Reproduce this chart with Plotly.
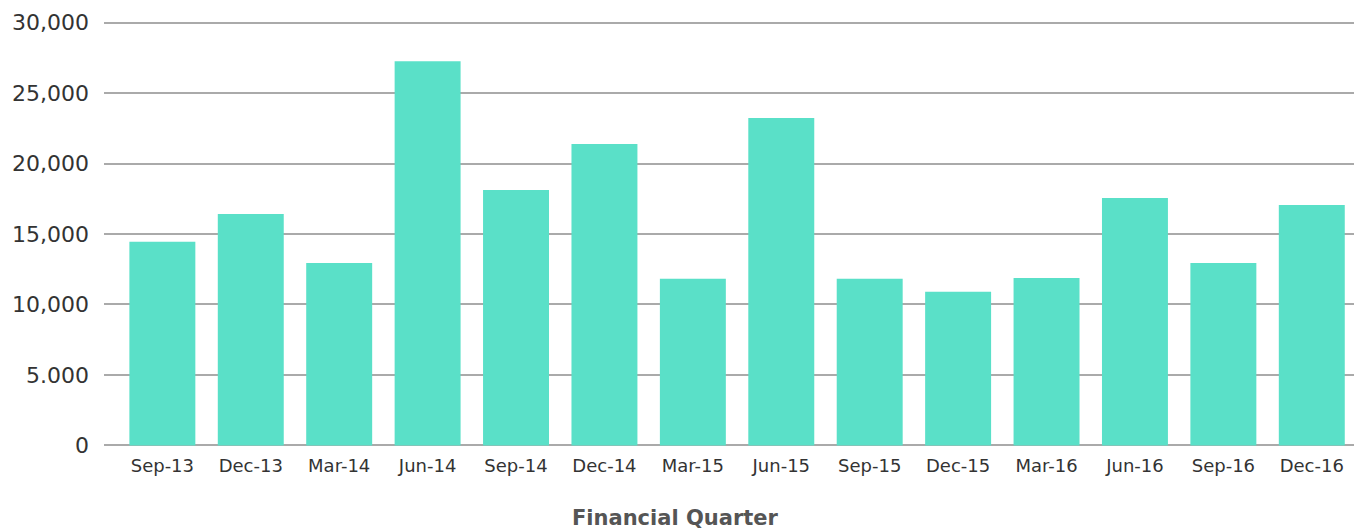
import plotly.graph_objects as go

quarters = ["Sep-13", "Dec-13", "Mar-14", "Jun-14", "Sep-14", "Dec-14", "Mar-15",
            "Jun-15", "Sep-15", "Dec-15", "Mar-16", "Jun-16", "Sep-16", "Dec-16"]
values = [14450, 16420, 12950, 27250, 18120, 21380, 11820,
          23220, 11820, 10900, 11880, 17560, 12950, 17060]
y_tick_vals = [0, 5000, 10000, 15000, 20000, 25000, 30000]
y_tick_text = ["0", "5.000", "10,000", "15,000", "20,000", "25,000", "30,000"]
x_title = "Financial Quarter"

fig = go.Figure(go.Bar(x=quarters, y=values, marker=dict(color="#5ae0c8", line=dict(width=0))))

fig.update_layout(
    width=1362, height=529,
    margin=dict(l=96, r=14, t=10.5, b=87.5),
    paper_bgcolor="white", plot_bgcolor="white",
    bargap=0.254,
    showlegend=False,
    font=dict(family="DejaVu Sans", color="#333333"),
    annotations=[dict(
        text="<b>" + x_title + "</b>", xref="paper", yref="paper",
        x=0.4565, y=-0.161, xanchor="center", yanchor="middle",
        showarrow=False, font=dict(size=21, color="#555555"),
    )],
)
fig.update_xaxes(
    range=[-0.66, 13.5],
    automargin=False,
    showgrid=False, showline=False, zeroline=False,
    tickfont=dict(size=18, color="#333333"),
    ticks="", ticklabelstandoff=4,
)
fig.update_yaxes(
    range=[-250, 30250],
    automargin=False,
    tickvals=y_tick_vals, ticktext=y_tick_text,
    showgrid=True, gridcolor="#aaaaaa", gridwidth=2,
    zeroline=False, showline=False,
    tickfont=dict(size=22, color="#333333"),
    ticks="", ticklabelstandoff=14,
)

fig.write_html("out.html")
